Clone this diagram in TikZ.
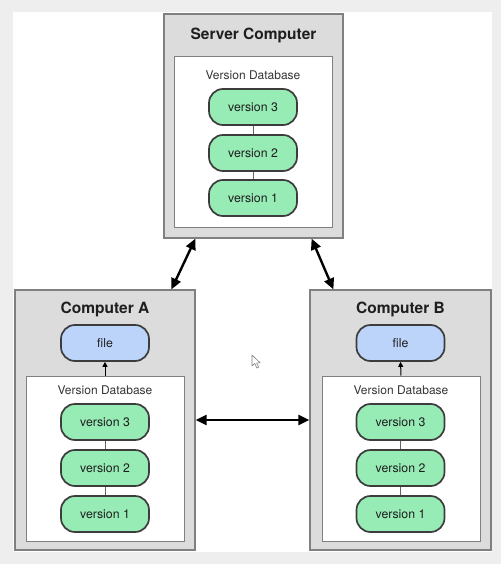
\documentclass[tikz,border=0pt]{standalone}
\usepackage{fontspec}
\setmainfont{TeX Gyre Heros}
\usetikzlibrary{arrows.meta,calc}
\definecolor{bggray}{HTML}{EEEEEE}
\definecolor{boxfill}{HTML}{DCDCDC}
\definecolor{boxline}{HTML}{808080}
\definecolor{pillgreen}{HTML}{97EBB5}
\definecolor{pillblue}{HTML}{BCD3FA}
\definecolor{pillline}{HTML}{3C3C3C}
\definecolor{txt}{HTML}{1E1E1E}
\tikzset{
  computer/.style={draw=boxline, fill=boxfill, line width=1.2pt, inner sep=0pt},
  dbbox/.style={draw=boxline, fill=white, line width=1pt, inner sep=0pt},
  title/.style={font=\fontsize{15.5}{18}\selectfont\bfseries, text=txt},
  dblabel/.style={font=\fontsize{12}{14}\selectfont, text=txt!90},
  pill/.style={draw=pillline, line width=1.7pt, rounded corners=14pt, minimum width=88pt, minimum height=36pt, inner sep=0pt, font=\fontsize{12.3}{14}\selectfont, text=txt},
  ver/.style={pill, fill=pillgreen},
  filepill/.style={pill, fill=pillblue},
  link/.style={draw=pillline!80, line width=0.9pt},
  sync/.style={line width=2.4pt, {Triangle[length=11pt,width=10pt]}-{Triangle[length=11pt,width=10pt]}},
  checkout/.style={line width=1pt, -{Triangle[length=5pt,width=5pt]}},
}
\begin{document}
\begin{tikzpicture}[x=1pt,y=-1pt]
\useasboundingbox (0,0) rectangle (501,564);
\fill[bggray] (0,0) rectangle (501,564);
\fill[white] (13,12) rectangle (492,552);

% Server
\node[computer, minimum width=179pt, minimum height=224pt] (srv) at (253.5,126) {};
\node[title] (srvt) at (253.5,35) {Server Computer};
\node[dbbox, minimum width=158pt, minimum height=170pt] (srvdb) at (253,142) {};
\node[dblabel] (srvdbl) at (253,75) {Version Database};
\node[ver] (s3) at (253,107) {version 3};
\node[ver] (s2) at (253,153) {version 2};
\node[ver] (s1) at (253,198) {version 1};
\draw[link] (s3) -- (s2);
\draw[link] (s2) -- (s1);

% Computer A
\node[computer, minimum width=180pt, minimum height=260pt] (ca) at (105,420) {};
\node[title] (cat) at (105,309) {Computer A};
\node[filepill] (fa) at (105,343) {file};
\node[dbbox, minimum width=158pt, minimum height=165pt] (cadb) at (105,458.5) {};
\node[dblabel] (cadbl) at (105,390) {Version Database};
\node[ver] (a3) at (105,422) {version 3};
\node[ver] (a2) at (105,468) {version 2};
\node[ver] (a1) at (105,514) {version 1};
\draw[link] (a3) -- (a2);
\draw[link] (a2) -- (a1);
\draw[checkout] (cadb.north) -- (fa.south);

% Computer B
\node[computer, minimum width=181pt, minimum height=260pt] (cb) at (400.5,420) {};
\node[title] (cbt) at (400.5,309) {Computer B};
\node[filepill] (fb) at (400.5,343) {file};
\node[dbbox, minimum width=158pt, minimum height=165pt] (cbdb) at (401,458.5) {};
\node[dblabel] (cbdbl) at (401,390) {Version Database};
\node[ver] (b3) at (400.5,422) {version 3};
\node[ver] (b2) at (400.5,468) {version 2};
\node[ver] (b1) at (400.5,514) {version 1};
\draw[link] (b3) -- (b2);
\draw[link] (b2) -- (b1);
\draw[checkout] (cbdb.north) -- (fb.south);

% sync arrows
\draw[sync] ([xshift=32pt]srv.south west) -- ([xshift=157pt]ca.north west);
\draw[sync] ([xshift=-32pt]srv.south east) -- ([xshift=24pt]cb.north west);
\draw[sync] (ca.east) -- (cb.west);

% mouse cursor
\draw[gray, fill=white, line width=0.6pt, line join=round]
  (252,355) -- (252,366) -- (254.8,363.4) -- (256.8,368) -- (258.6,367.2) -- (256.6,362.8) -- (260.2,362.8) -- cycle;
\end{tikzpicture}
\end{document}
